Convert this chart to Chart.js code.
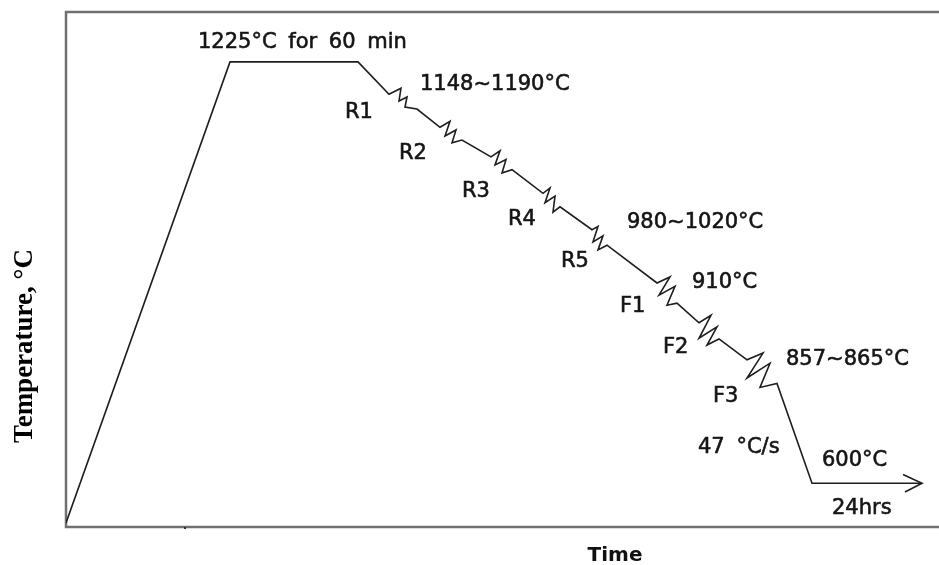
<!DOCTYPE html>
<html>
<head>
<meta charset="utf-8">
<script src="https://cdn.jsdelivr.net/npm/chart.js@4/dist/chart.umd.min.js"></script>
<style>
  html, body { margin: 0; padding: 0; background: #ffffff; }
  #wrap { width: 939px; height: 565px; }
</style>
</head>
<body>
<div id="wrap"><canvas id="c" width="939" height="565"></canvas></div>
<script>
// ---- Data: schematic thermal-mechanical schedule (time in arbitrary units, temperature in °C) ----
const pathTime = [0, 164, 292,
  323, 335, 333, 341, 339, 351,   // R1
  374, 384, 379, 390, 386, 396,   // R2
  425, 434, 429, 440, 436, 446,   // R3
  477, 484, 479, 489, 487, 494,   // R4
  526, 532, 527, 537, 532, 541,   // R5
  591, 604, 593, 609, 601, 611,   // F1
  633, 645, 633, 651, 641, 653,   // F2
  681, 697, 681, 704, 694, 711,   // F3
  746, 856];
const pathTemp = [541, 1225, 1225,
  1177, 1186, 1167, 1173, 1158, 1155,
  1128, 1137, 1115, 1124, 1105, 1109,
  1084, 1093, 1072, 1080, 1060, 1065,
  1030, 1038, 1016, 1026, 1002, 1010,
  976, 981, 958, 967, 946, 953,
  897, 906, 879, 892, 864, 867,
  838, 849, 815, 832, 805, 814,
  783, 793, 756, 778, 742, 748,
  600, 600];
const arrowTime = [837, 856, 839];
const arrowTemp = [613, 600, 587];

const labelTexts = ['1225°C for 60 min', '1148~1190°C', 'R1', 'R2', 'R3', 'R4', 'R5',
  '980~1020°C', '910°C', 'F1', 'F2', 'F3', '857~865°C', '47 °C/s', '600°C', '24hrs'];
const xAxisTitle = 'Time';
const yAxisTitle = 'Temperature, °C';

// ---- Annotation anchors (data space) ----
const labelAnchors = {
  time: [132, 354, 279, 333, 396, 442, 495, 561, 626, 554, 597, 647, 720, 632, 756, 766],
  temp: [1246, 1184, 1142, 1081, 1025, 983, 921, 979, 890, 854, 793, 720, 775, 645, 625, 555]
};

const toXY = (xs, ys) => xs.map((x, i) => ({ x: x, y: ys[i] }));

const framePlugin = {
  id: 'frameAndText',
  beforeDatasetsDraw(chart) {
    const { ctx, chartArea: a, scales } = chart;
    ctx.save();
    ctx.strokeStyle = '#707070';
    ctx.lineWidth = 2.5;
    ctx.beginPath();
    ctx.moveTo(a.right, a.top);
    ctx.lineTo(a.left, a.top);
    ctx.lineTo(a.left, a.bottom);
    ctx.lineTo(a.right, a.bottom);
    ctx.stroke();
    // small tick mark on the time axis
    const tx = scales.x.getPixelForValue(119);
    ctx.fillStyle = '#333';
    ctx.fillRect(tx - 1, a.bottom, 2, 2);
    ctx.restore();
  },
  afterDatasetsDraw(chart) {
    const { ctx, scales } = chart;
    ctx.save();
    ctx.fillStyle = '#151515';
    ctx.strokeStyle = '#151515';
    ctx.lineWidth = 0.6;
    ctx.font = '21px "DejaVu Sans"';
    if ('wordSpacing' in ctx) ctx.wordSpacing = '5px';
    ctx.textAlign = 'left';
    ctx.textBaseline = 'alphabetic';
    labelTexts.forEach((t, i) => {
      const px = scales.x.getPixelForValue(labelAnchors.time[i]);
      const py = scales.y.getPixelForValue(labelAnchors.temp[i]);
      ctx.fillText(t, px, py);
      ctx.strokeText(t, px, py);
    });
    if ('wordSpacing' in ctx) ctx.wordSpacing = '0px';
    // axis titles
    ctx.font = 'bold 20px "DejaVu Sans"';
    ctx.textAlign = 'center';
    ctx.fillStyle = '#111';
    ctx.fillText(xAxisTitle, 615, 561);
    ctx.translate(32, 346);
    ctx.rotate(-Math.PI / 2);
    ctx.font = 'bold 27px "Liberation Serif"';
    ctx.fillStyle = '#000';
    ctx.fillText(yAxisTitle, 0, 0);
    ctx.restore();
  }
};

new Chart(document.getElementById('c'), {
  type: 'scatter',
  data: {
    datasets: [
      { data: toXY(pathTime, pathTemp), showLine: true, borderColor: '#1e1e1e', borderWidth: 1.6,
        pointRadius: 0, tension: 0, fill: false },
      { data: toXY(arrowTime, arrowTemp), showLine: true, borderColor: '#1e1e1e', borderWidth: 1.6,
        pointRadius: 0, tension: 0, fill: false }
    ]
  },
  options: {
    responsive: false,
    animation: false,
    layout: { padding: { left: 66, right: 0, top: 12, bottom: 38 } },
    plugins: { legend: { display: false }, tooltip: { enabled: false } },
    scales: {
      x: { type: 'linear', min: 0, max: 873, display: false },
      y: { type: 'linear', min: 535, max: 1299, display: false }
    }
  },
  plugins: [framePlugin]
});
</script>
</body>
</html>
